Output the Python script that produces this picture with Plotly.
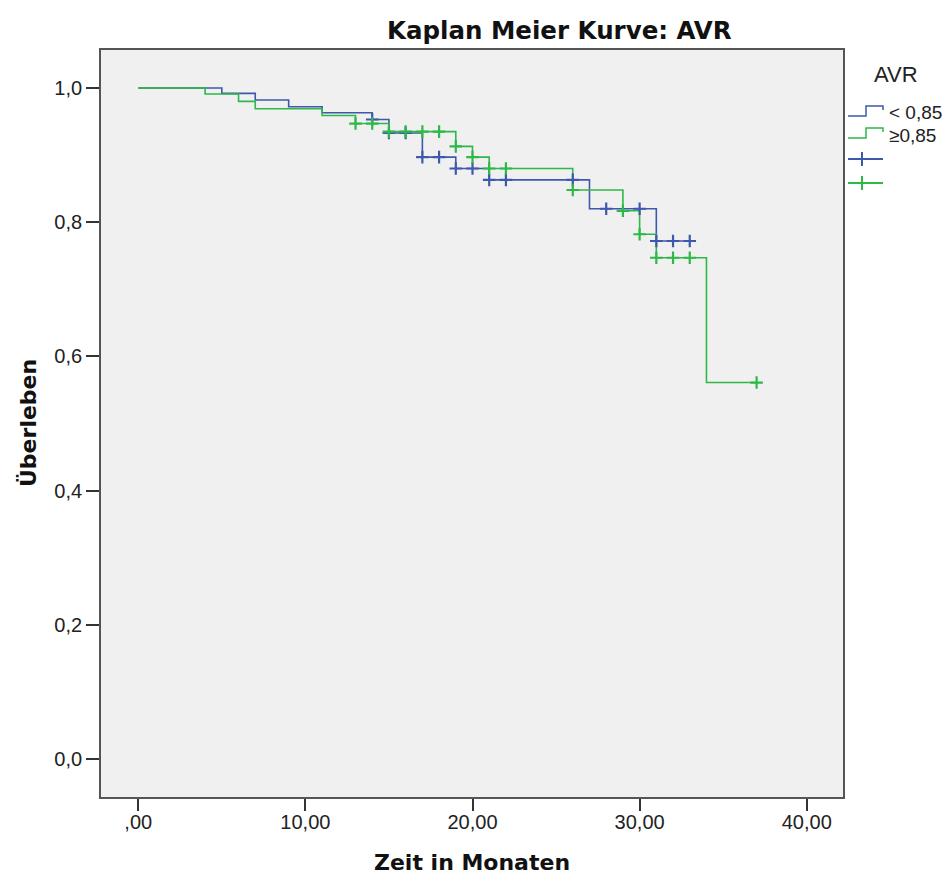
import plotly.graph_objects as go

# ---------------- data ----------------
blue_name = "< 0,85"
blue_times = [0, 5, 7, 9, 11, 14, 15, 17, 19, 21, 27, 31]
blue_surv = [1.0, 0.992, 0.982, 0.972, 0.963, 0.953, 0.933, 0.897, 0.880, 0.863, 0.820, 0.772]
blue_end = 33
blue_cens_t = [14, 15, 16, 17, 18, 19, 20, 21, 22, 26, 28, 30, 31, 32, 33]
blue_cens_s = [0.953, 0.933, 0.933, 0.897, 0.897, 0.880, 0.880, 0.863, 0.863, 0.863,
               0.820, 0.820, 0.772, 0.772, 0.772]

green_name = "\u22650,85"
green_times = [0, 4, 6, 7, 11, 13, 15, 19, 20, 21, 26, 29, 30, 31, 34]
green_surv = [1.0, 0.991, 0.980, 0.969, 0.959, 0.947, 0.935, 0.913, 0.897, 0.880,
              0.848, 0.817, 0.782, 0.747, 0.561]
green_end = 37
green_cens_t = [13, 14, 15, 16, 17, 18, 19, 20, 21, 22, 26, 29, 30, 31, 32, 33, 37]
green_cens_s = [0.947, 0.947, 0.935, 0.935, 0.935, 0.935, 0.913, 0.897, 0.880, 0.880,
                0.848, 0.817, 0.782, 0.747, 0.747, 0.747, 0.561]

x_ticks = [0, 10, 20, 30, 40]
x_ticklabels = [",00", "10,00", "20,00", "30,00", "40,00"]
y_ticks = [0.0, 0.2, 0.4, 0.6, 0.8, 1.0]
y_ticklabels = ["0,0", "0,2", "0,4", "0,6", "0,8", "1,0"]

title_text = "Kaplan Meier Kurve: AVR"
x_title = "Zeit in Monaten"
y_title = "\u00dcberleben"
legend_title = "AVR"

BLUE = "#3E58AC"
GREEN = "#2EB848"

# ---------------- layout geometry (pixels) ----------------
W, H = 945, 877
L, R, T, B = 101, 843, 50, 797


def px(xp, yp):
    return (xp - L) / (R - L), (B - yp) / (B - T)


fig = go.Figure()

# step lines
fig.add_trace(go.Scatter(x=blue_times + [blue_end], y=blue_surv + [blue_surv[-1]],
                         mode="lines", line=dict(color=BLUE, width=1.6, shape="hv"),
                         name=blue_name, showlegend=False, hoverinfo="skip"))
fig.add_trace(go.Scatter(x=green_times + [green_end], y=green_surv + [green_surv[-1]],
                         mode="lines", line=dict(color=GREEN, width=1.6, shape="hv"),
                         name=green_name, showlegend=False, hoverinfo="skip"))
# censor marks
fig.add_trace(go.Scatter(x=blue_cens_t, y=blue_cens_s, mode="markers",
                         marker=dict(symbol="cross-thin", size=9,
                                     line=dict(color=BLUE, width=2.2)),
                         showlegend=False, hoverinfo="skip"))
fig.add_trace(go.Scatter(x=green_cens_t, y=green_cens_s, mode="markers",
                         marker=dict(symbol="cross-thin", size=9,
                                     line=dict(color=GREEN, width=2.2)),
                         showlegend=False, hoverinfo="skip"))

axis_font = dict(family="Liberation Sans, Arial, sans-serif", size=20, color="#222")

fig.update_layout(
    width=W, height=H,
    margin=dict(l=L, r=W - R, t=T, b=H - B, pad=0),
    paper_bgcolor="white", plot_bgcolor="#F0F0F0",
    xaxis=dict(range=[-2.23, 42.17], tickvals=x_ticks, ticktext=x_ticklabels,
               showgrid=False, zeroline=False, showline=True, mirror=True,
               linecolor="#555555", linewidth=1.8, ticks="outside", ticklen=12,
               tickwidth=1.8, tickcolor="#333333", tickfont=axis_font,
               ticklabelstandoff=-6),
    yaxis=dict(range=[-0.0566, 1.0566], tickvals=y_ticks, ticktext=y_ticklabels,
               showgrid=False, zeroline=False, showline=True, mirror=True,
               linecolor="#555555", linewidth=1.8, ticks="outside", ticklen=13,
               tickwidth=1.8, tickcolor="#333333", tickfont=axis_font),
    showlegend=False,
)

annotations = []
bold = dict(family="DejaVu Sans, sans-serif", color="#111", weight="bold")
tx, ty = px(559, 31)
annotations.append(dict(text=title_text, x=tx, y=ty, xref="paper", yref="paper",
                        xanchor="center", yanchor="middle", showarrow=False,
                        font=dict(size=24.5, **bold)))
ax_x, ax_y = px(472, 862)
annotations.append(dict(text=x_title, x=ax_x, y=ax_y, xref="paper", yref="paper",
                        xanchor="center", yanchor="middle", showarrow=False,
                        font=dict(size=22, **bold)))
ay_x, ay_y = px(28, 423)
annotations.append(dict(text=y_title, x=ay_x, y=ay_y, xref="paper", yref="paper",
                        xanchor="center", yanchor="middle", showarrow=False,
                        textangle=-90, font=dict(size=22, **bold)))

# custom legend (outside plot on the right)
leg_family = "Liberation Sans, Arial, sans-serif"
lx, ly = px(872, 75)
annotations.append(dict(text=legend_title, x=lx, y=ly, xref="paper", yref="paper",
                        xanchor="left", yanchor="middle", showarrow=False,
                        font=dict(family=leg_family, size=22, color="#222")))
for label, yc in [(blue_name, 112), (green_name, 135)]:
    a, b = px(887, yc)
    annotations.append(dict(text=label, x=a, y=b, xref="paper", yref="paper",
                            xanchor="left", yanchor="middle", showarrow=False,
                            font=dict(family=leg_family, size=19, color="#222")))

shapes = []


def path_px(points):
    s = ""
    for i, (xp, yp) in enumerate(points):
        a, b = px(xp, yp)
        s += ("M" if i == 0 else "L") + f"{a:.5f},{b:.5f}"
    return s


for col, base, top, tail in [(BLUE, 116, 106, 110), (GREEN, 138, 128, 132)]:
    pts = [(848, base), (866, base), (866, top), (883, top), (883, tail)]
    shapes.append(dict(type="path", xref="paper", yref="paper", path=path_px(pts),
                       line=dict(color=col, width=1.5)))
for col, yc in [(BLUE, 159), (GREEN, 183)]:
    shapes.append(dict(type="path", xref="paper", yref="paper",
                       path=path_px([(848, yc), (883, yc)]), line=dict(color=col, width=2)))
    shapes.append(dict(type="path", xref="paper", yref="paper",
                       path=path_px([(862, yc - 7), (862, yc + 7)]), line=dict(color=col, width=2)))

fig.update_layout(annotations=annotations, shapes=shapes)

fig.write_html("out.html", config={"displayModeBar": False},
               post_script="document.body.style.margin='0';document.body.style.overflow='hidden';")
